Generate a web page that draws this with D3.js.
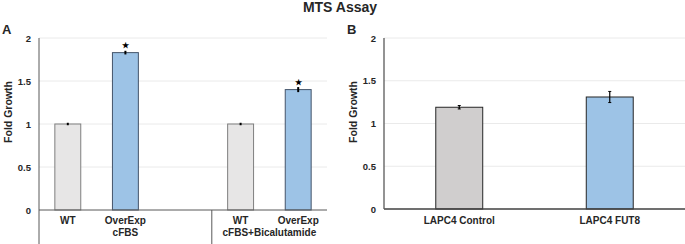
<!DOCTYPE html>
<html>
<head>
<meta charset="utf-8">
<script src="https://cdn.jsdelivr.net/npm/d3@7"></script>
<style>
  body { margin: 0; background: #fff; }
  text { font-family: Arial, "Liberation Sans", sans-serif; font-weight: bold; fill: #262626; }
</style>
</head>
<body>
<div id="vizContainer"></div>
<script>
let w = 685;
let h = 244;

// panel A data
let aLabels = ["WT", "OverExp", "WT", "OverExp"];
let aGroups = ["cFBS", "cFBS+Bicalutamide"];
let aValues = [1.0, 1.83, 1.0, 1.40];
let aErrors = [0.005, 0.012, 0.005, 0.02];
let aStars = [false, true, false, true];
let aColors = ["#e7e6e6", "#9dc3e6", "#e7e6e6", "#9dc3e6"];
let aStrokes = ["#7f7f7f", "#44546a", "#7f7f7f", "#44546a"];

// panel B data
let bLabels = ["LAPC4 Control", "LAPC4 FUT8"];
let bValues = [1.19, 1.31];
let bErrors = [0.02, 0.065];
let bColors = ["#d0cece", "#9dc3e6"];

let yTicks = [0, 0.5, 1, 1.5, 2];

let viz = d3.select("#vizContainer").append("svg")
	.attr("width", w)
	.attr("height", h)
	.style("background-color", "white");

viz.append("text")
	.attr("x", 340).attr("y", 12)
	.attr("text-anchor", "middle")
	.style("font-size", "14px")
	.text("MTS Assay");

function drawY(g, x0, x1, yScale) {
	g.selectAll(".grid").data(yTicks.filter(d => d > 0)).enter().append("line")
		.attr("x1", x0).attr("x2", x1)
		.attr("y1", d => yScale(d)).attr("y2", d => yScale(d))
		.attr("stroke", "#e4e4e4").attr("stroke-width", 0.8);
	let axis = d3.axisLeft(yScale).tickValues(yTicks).tickSize(0).tickPadding(8)
		.tickFormat(d => d);
	let ag = g.append("g").attr("transform", "translate(" + x0 + ",0)").call(axis);
	ag.select(".domain").remove();
	ag.selectAll("text").style("font-size", "9.5px").style("font-family", "Arial, 'Liberation Sans', sans-serif");
}

// ---------- panel A ----------
let yA = d3.scaleLinear().domain([0, 2]).range([210, 38]);
let slots = ["s0", "s1", "gap", "s3", "s4"];
let slotOf = ["s0", "s1", "s3", "s4"];
let xA = d3.scaleBand().domain(slots).range([39, 327]).paddingInner(0.55).paddingOuter(0.275);
let gA = viz.append("g");
drawY(gA, 39, 327, yA);

let barsA = gA.selectAll(".barA").data(aValues).enter().append("g");
barsA.append("rect")
	.attr("x", (d, i) => xA(slotOf[i]))
	.attr("width", xA.bandwidth())
	.attr("y", d => yA(d))
	.attr("height", d => yA(0) - yA(d))
	.attr("fill", (d, i) => aColors[i])
	.attr("stroke", (d, i) => aStrokes[i])
	.attr("stroke-width", 1);
barsA.append("line")
	.attr("x1", (d, i) => xA(slotOf[i]) + xA.bandwidth() / 2)
	.attr("x2", (d, i) => xA(slotOf[i]) + xA.bandwidth() / 2)
	.attr("y1", (d, i) => yA(d + aErrors[i]) - 0.8)
	.attr("y2", (d, i) => yA(d - aErrors[i]) + 0.8)
	.attr("stroke", "#000").attr("stroke-width", 2);
barsA.filter((d, i) => aStars[i]).append("text")
	.attr("x", (d, i) => xA(slotOf[aValues.indexOf(d)]) + xA.bandwidth() / 2)
	.attr("y", d => yA(d) - 5)
	.attr("text-anchor", "middle")
	.style("font-size", "8px")
	.style("fill", "#000")
	.text("★");

// category axis A
gA.append("line").attr("x1", 39).attr("x2", 327).attr("y1", 210).attr("y2", 210)
	.attr("stroke", "#595959").attr("stroke-width", 1);
gA.append("line").attr("x1", 39).attr("x2", 39).attr("y1", 38).attr("y2", 244)
	.attr("stroke", "#595959").attr("stroke-width", 1);
let divX = xA("s3") - xA.step() * xA.paddingInner() / 2;
gA.append("line").attr("x1", divX).attr("x2", divX).attr("y1", 210).attr("y2", 244)
	.attr("stroke", "#595959").attr("stroke-width", 1);
gA.selectAll(".catA").data(aLabels).enter().append("text")
	.attr("x", (d, i) => xA(slotOf[i]) + xA.bandwidth() / 2)
	.attr("y", 224)
	.attr("text-anchor", "middle")
	.style("font-size", "10px")
	.text(d => d);
let groupX = [(39 + divX) / 2, (divX + 327) / 2];
gA.selectAll(".grpA").data(aGroups).enter().append("text")
	.attr("x", (d, i) => groupX[i])
	.attr("y", 236)
	.attr("text-anchor", "middle")
	.style("font-size", "10px")
	.text(d => d);

viz.append("text").attr("x", 2).attr("y", 34).style("font-size", "13px").text("A");
viz.append("text")
	.attr("transform", "translate(12,112) rotate(-90)")
	.attr("text-anchor", "middle")
	.style("font-size", "10.5px")
	.text("Fold Growth");

// ---------- panel B ----------
let yB = d3.scaleLinear().domain([0, 2]).range([209, 38]);
let xB = d3.scaleBand().domain(bLabels).range([384, 685]).paddingInner(0.688).paddingOuter(0.344);
let gB = viz.append("g");
drawY(gB, 384, 685, yB);

let barsB = gB.selectAll(".barB").data(bValues).enter().append("g");
barsB.append("rect")
	.attr("x", (d, i) => xB(bLabels[i]))
	.attr("width", xB.bandwidth())
	.attr("y", d => yB(d))
	.attr("height", d => yB(0) - yB(d))
	.attr("fill", (d, i) => bColors[i])
	.attr("stroke", "#262626")
	.attr("stroke-width", 1);
barsB.append("line")
	.attr("x1", (d, i) => xB(bLabels[i]) + xB.bandwidth() / 2)
	.attr("x2", (d, i) => xB(bLabels[i]) + xB.bandwidth() / 2)
	.attr("y1", (d, i) => yB(d + bErrors[i]))
	.attr("y2", (d, i) => yB(d - bErrors[i]))
	.attr("stroke", "#000").attr("stroke-width", 1.2);
barsB.append("line")
	.attr("x1", (d, i) => xB(bLabels[i]) + xB.bandwidth() / 2 - 1.5)
	.attr("x2", (d, i) => xB(bLabels[i]) + xB.bandwidth() / 2 + 1.5)
	.attr("y1", (d, i) => yB(d + bErrors[i]))
	.attr("y2", (d, i) => yB(d + bErrors[i]))
	.attr("stroke", "#000").attr("stroke-width", 1);
barsB.append("line")
	.attr("x1", (d, i) => xB(bLabels[i]) + xB.bandwidth() / 2 - 1.5)
	.attr("x2", (d, i) => xB(bLabels[i]) + xB.bandwidth() / 2 + 1.5)
	.attr("y1", (d, i) => yB(d - bErrors[i]))
	.attr("y2", (d, i) => yB(d - bErrors[i]))
	.attr("stroke", "#000").attr("stroke-width", 1);

gB.append("line").attr("x1", 384).attr("x2", 685).attr("y1", 209).attr("y2", 209)
	.attr("stroke", "#404040").attr("stroke-width", 1.3);
gB.append("line").attr("x1", 384).attr("x2", 384).attr("y1", 38).attr("y2", 209)
	.attr("stroke", "#595959").attr("stroke-width", 1.3);
gB.selectAll(".catB").data(bLabels).enter().append("text")
	.attr("x", d => xB(d) + xB.bandwidth() / 2)
	.attr("y", 224)
	.attr("text-anchor", "middle")
	.style("font-size", "10px")
	.text(d => d);

viz.append("text").attr("x", 347).attr("y", 34).style("font-size", "13px").text("B");
viz.append("text")
	.attr("transform", "translate(357,112) rotate(-90)")
	.attr("text-anchor", "middle")
	.style("font-size", "10.5px")
	.text("Fold Growth");
</script>
</body>
</html>
